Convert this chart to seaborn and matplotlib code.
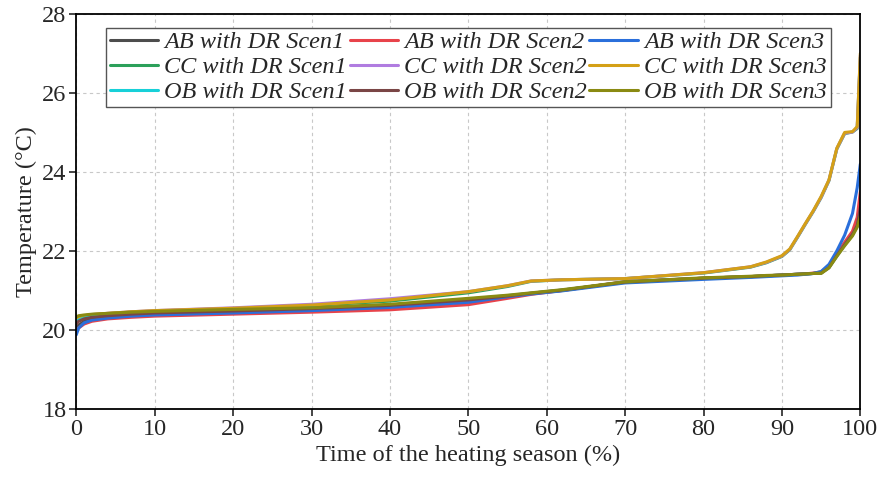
import pandas as pd
import numpy as np
import matplotlib
matplotlib.use('Agg')
import matplotlib.pyplot as plt
import seaborn as sns

# time of the heating season (%)
x_pct = [0, 0.3, 1, 2, 4, 7, 10, 20, 30, 40, 50, 55, 58, 62, 70, 80, 86, 88, 90, 91, 92, 93, 94, 95, 96, 97, 98, 99, 99.6, 100]

# sorted indoor temperatures (degC)
ab_scen1 = [20.05, 20.12, 20.22, 20.28, 20.33, 20.38, 20.41, 20.46, 20.52, 20.60, 20.74, 20.85, 20.92, 21.00, 21.22, 21.31, 21.35, 21.37, 21.39, 21.40, 21.41, 21.42, 21.43, 21.45, 21.60, 21.90, 22.18, 22.45, 22.70, 23.30]
ab_scen2 = [20.00, 20.05, 20.15, 20.22, 20.28, 20.32, 20.35, 20.40, 20.45, 20.51, 20.64, 20.80, 20.90, 21.00, 21.22, 21.31, 21.35, 21.37, 21.39, 21.40, 21.41, 21.42, 21.44, 21.47, 21.62, 21.93, 22.22, 22.50, 22.85, 23.50]
ab_scen3 = [19.88, 20.05, 20.18, 20.25, 20.30, 20.35, 20.38, 20.43, 20.49, 20.57, 20.70, 20.84, 20.91, 20.99, 21.19, 21.28, 21.33, 21.35, 21.37, 21.38, 21.39, 21.41, 21.43, 21.48, 21.66, 22.00, 22.40, 22.95, 23.60, 24.20]
cc_scen1 = [20.28, 20.32, 20.35, 20.38, 20.41, 20.45, 20.48, 20.54, 20.62, 20.73, 20.94, 21.10, 21.23, 21.27, 21.30, 21.44, 21.59, 21.70, 21.86, 22.03, 22.35, 22.68, 23.00, 23.35, 23.78, 24.58, 24.97, 25.01, 25.10, 26.90]
cc_scen2 = [20.29, 20.33, 20.36, 20.39, 20.42, 20.46, 20.49, 20.56, 20.65, 20.79, 20.97, 21.12, 21.24, 21.27, 21.30, 21.45, 21.60, 21.71, 21.87, 22.04, 22.36, 22.69, 23.01, 23.36, 23.79, 24.59, 24.98, 25.01, 25.12, 26.95]
cc_scen3 = [20.30, 20.33, 20.36, 20.39, 20.42, 20.46, 20.49, 20.55, 20.63, 20.76, 20.97, 21.12, 21.24, 21.27, 21.30, 21.45, 21.60, 21.72, 21.88, 22.05, 22.37, 22.70, 23.02, 23.38, 23.80, 24.60, 25.00, 25.02, 25.15, 27.00]
ob_scen1 = [20.20, 20.25, 20.30, 20.34, 20.38, 20.42, 20.45, 20.50, 20.55, 20.63, 20.78, 20.87, 20.93, 21.01, 21.21, 21.31, 21.35, 21.37, 21.39, 21.40, 21.41, 21.42, 21.43, 21.44, 21.58, 21.87, 22.15, 22.40, 22.62, 23.00]
ob_scen2 = [20.15, 20.22, 20.28, 20.32, 20.36, 20.40, 20.43, 20.48, 20.54, 20.62, 20.76, 20.86, 20.93, 21.01, 21.21, 21.31, 21.35, 21.37, 21.39, 21.40, 21.41, 21.42, 21.43, 21.44, 21.58, 21.88, 22.16, 22.42, 22.64, 23.10]
ob_scen3 = [20.33, 20.36, 20.38, 20.40, 20.42, 20.45, 20.47, 20.52, 20.56, 20.65, 20.80, 20.88, 20.94, 21.02, 21.22, 21.32, 21.36, 21.38, 21.39, 21.40, 21.41, 21.42, 21.43, 21.43, 21.57, 21.86, 22.13, 22.38, 22.60, 22.88]

labels = ['AB with DR Scen1', 'AB with DR Scen2', 'AB with DR Scen3',
          'CC with DR Scen1', 'CC with DR Scen2', 'CC with DR Scen3',
          'OB with DR Scen1', 'OB with DR Scen2', 'OB with DR Scen3']
series = [ab_scen1, ab_scen2, ab_scen3, cc_scen1, cc_scen2, cc_scen3, ob_scen1, ob_scen2, ob_scen3]
colors = ['#4d4d4d', '#e8434a', '#2a6fdb', '#2ca05a', '#b07ce0', '#d4a017',
          '#17d0d8', '#7a4646', '#8a8a12']

df = pd.concat([pd.DataFrame({'Time': x_pct, 'Temp': s, 'Case': lab})
                for lab, s in zip(labels, series)], ignore_index=True)

sns.set_style('ticks')
plt.rcParams['font.family'] = ['Liberation Serif', 'DejaVu Serif']

fig, ax = plt.subplots(figsize=(8.77, 4.8), dpi=100)
sns.lineplot(data=df, x='Time', y='Temp', hue='Case', hue_order=labels,
             palette=dict(zip(labels, colors)), estimator=None, sort=False,
             linewidth=2.2, ax=ax)

ax.set_xlim(0, 100)
ax.set_ylim(18, 28)
ax.set_xticks(np.arange(0, 101, 10))
ax.set_yticks(np.arange(18, 29, 2))
ax.grid(True, linestyle=(0, (3, 3)), color='#c8c8c8', linewidth=0.8)
ax.tick_params(labelsize=17.5, direction='out', length=5, width=1.2, pad=2)
for sp in ax.spines.values():
    sp.set_linewidth(1.3)
    sp.set_color('black')
ax.set_xlabel('Time of the heating season (%)', fontsize=17.5, labelpad=4)
ax.set_ylabel('Temperature (°C)', fontsize=17.5, labelpad=4)

# legend filled row by row
h, l = ax.get_legend_handles_labels()
order = [0, 3, 6, 1, 4, 7, 2, 5, 8]
leg = ax.legend([h[i] for i in order], [l[i] for i in order], ncol=3,
                loc='upper center', bbox_to_anchor=(0.5, 0.965),
                prop={'style': 'italic', 'size': 17.5}, frameon=True, fancybox=False,
                edgecolor='#555555', framealpha=1, handlelength=2.0,
                columnspacing=0.1, handletextpad=0.25, labelspacing=0.12,
                borderpad=0.15, borderaxespad=0)
leg.get_frame().set_linewidth(1.0)

plt.subplots_adjust(left=0.087, right=0.981, top=0.971, bottom=0.148)
plt.savefig('out.png', dpi=100)
